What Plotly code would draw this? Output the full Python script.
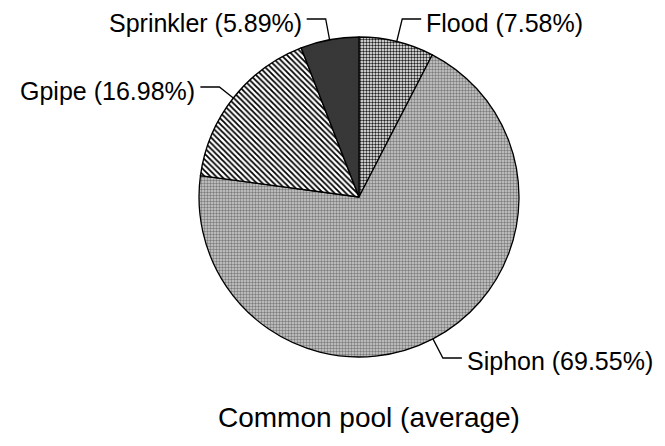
import math
import plotly.graph_objects as go

# slice data, clockwise from 12 o'clock
labels = ['Flood', 'Siphon', 'Gpipe', 'Sprinkler']
shares = [7.58, 69.55, 16.98, 5.89]
title_text = 'Common pool (average)'

W, H = 665, 446
OFF = 8                          # page body margin
cx, cy, r = 359, 197, 160        # pie centre and radius in screen pixels

fills = [
    dict(shape='.', fgcolor='#202020', bgcolor='#ffffff', size=3, solidity=0.5),
    dict(shape='.', fgcolor='#7c7c7c', bgcolor='#cfcfcf', size=3, solidity=0.5),
    dict(shape='\\', fgcolor='#000000', bgcolor='#ffffff', size=4, solidity=0.45),
    dict(shape='+', fgcolor='#000000', bgcolor='#8a8a8a', size=2, solidity=0.6),
]

def fx(x):
    return (x - OFF) / W

def fy(y):
    return 1 - (y - OFF) / H

fig = go.Figure()
fig.add_trace(go.Pie(
    labels=labels, values=shares, sort=False, direction='clockwise', rotation=0,
    textinfo='none', hoverinfo='label+percent', showlegend=False,
    domain=dict(x=[fx(cx - r), fx(cx + r)], y=[fy(cy + r), fy(cy - r)]),
    marker=dict(colors=[f['bgcolor'] for f in fills],
                line=dict(color='black', width=1.3),
                pattern=dict(shape=[f['shape'] for f in fills],
                             fgcolor=[f['fgcolor'] for f in fills],
                             bgcolor=[f['bgcolor'] for f in fills],
                             size=[f['size'] for f in fills],
                             solidity=[f['solidity'] for f in fills],
                             fillmode='replace')),
))

font = dict(family='Arial, Liberation Sans, sans-serif', size=25, color='black')
# leader elbow height and text centre height (screen px)
line_y = {'Flood': 19, 'Sprinkler': 19, 'Gpipe': 87, 'Siphon': 358}
text_y = {'Flood': 23, 'Sprinkler': 23, 'Gpipe': 91, 'Siphon': 361}

total = sum(shares)
start = 0.0
for lab, v in zip(labels, shares):
    mid = (start + v / 2) / total * 2 * math.pi
    start += v
    sx, sy = cx + r * math.sin(mid), cy - r * math.cos(mid)
    ly = line_y[lab]
    dx, dy = math.sin(mid), -math.cos(mid)
    ex = sx + dx * (ly - sy) / dy
    side = 1 if dx > 0 else -1
    hx = ex + side * 19
    path = f'M {fx(sx)},{fy(sy)} L {fx(ex)},{fy(ly)} L {fx(hx)},{fy(ly)}'
    fig.add_shape(type='path', xref='paper', yref='paper', path=path,
                  line=dict(color='black', width=1.3))
    fig.add_annotation(x=fx(hx + side * 3), y=fy(text_y[lab]), xref='paper', yref='paper',
                       text=f'{lab} ({v:.2f}%)', showarrow=False,
                       xanchor='left' if side > 0 else 'right', yanchor='middle', font=font)

fig.add_annotation(x=fx(369), y=fy(417), xref='paper', yref='paper', text=title_text,
                   showarrow=False, xanchor='center', yanchor='middle',
                   font=dict(family='Arial, Liberation Sans, sans-serif', size=28, color='black'))

fig.update_layout(width=W, height=H, margin=dict(l=0, r=0, t=0, b=0),
                  paper_bgcolor='white', plot_bgcolor='white')
fig.write_html('out.html')
